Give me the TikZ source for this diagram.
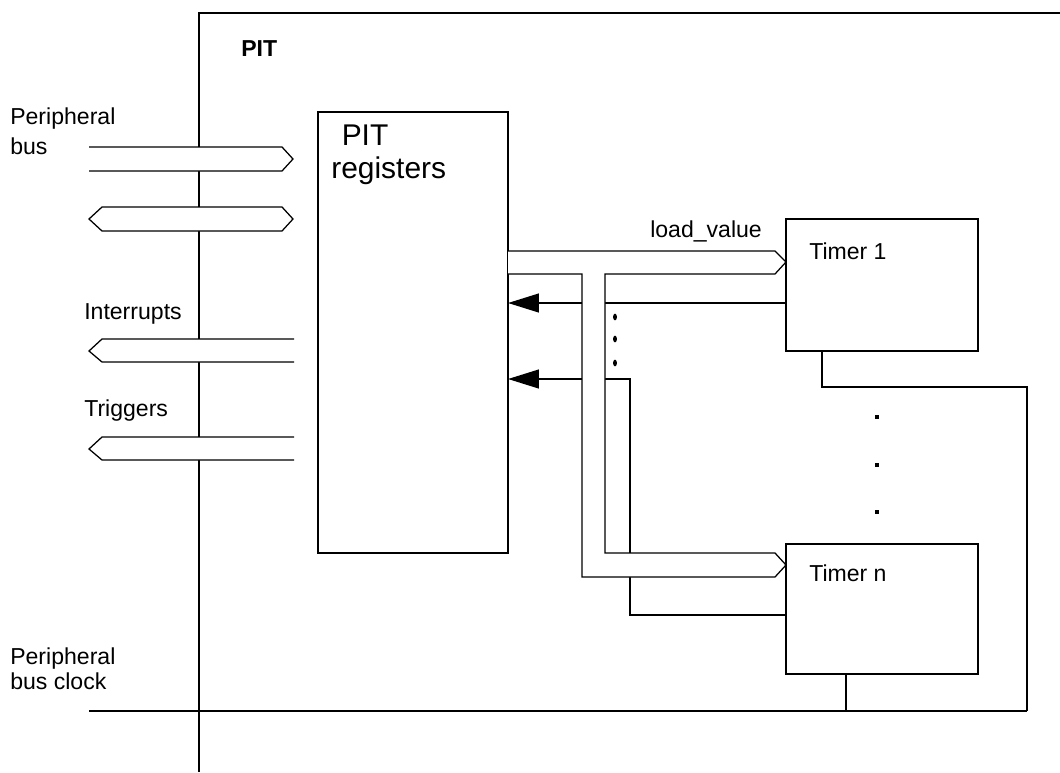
\documentclass[tikz,border=0pt]{standalone}
\usepackage{fontspec}
\setmainfont{Liberation Sans}
\usetikzlibrary{arrows.meta,positioning}

\tikzset{
  wire/.style={line width=0.9pt},
  blk/.style={draw, line width=0.9pt, anchor=north west, inner sep=0pt, outer sep=0pt,
              minimum width=4.8cm, minimum height=3.3cm},
  bus/.style={draw, line width=0.9pt, fill=white},
  irq/.style={line width=0.9pt, -{Triangle[length=22pt,width=13.5pt]}},
  txt/.style={inner sep=0pt, font=\fontsize{16.4}{21.3}\selectfont, align=left}
}

\begin{document}
\begin{tikzpicture}[x=0.025cm, y=-0.025cm]
  \useasboundingbox (0,0) rectangle (1060,772);

  % edge of the PIT block
  \draw[wire] (1060,13) -- (199,13) -- (199,772);
  \node[txt, font=\bfseries\fontsize{16.4}{20}\selectfont, anchor=base west] (pit) at (241,56) {PIT};

  % blocks
  \node[blk, minimum width=4.75cm, minimum height=11.025cm] (regs) at (318,112) {};
  \node[blk] (tmr1) at (786,219) {};
  \node[blk, minimum height=3.25cm] (tmrn) at (786,544) {};

  \node[txt, font=\fontsize{21.3}{23.5}\selectfont, anchor=north west] (regtxt) at (331,125) {\hspace*{0.35em}PIT\\registers};
  \node[txt, anchor=base west] (tmr1txt) at (809,259) {Timer 1};
  \node[txt, anchor=base west] (tmrntxt) at (809,581) {Timer n};

  % labels on the left
  \node[txt, anchor=north west] (pbus) at (10,108) {Peripheral\\bus};
  \node[txt, anchor=base west] (intl) at (84,319) {Interrupts};
  \node[txt, anchor=base west] (trgl) at (84,416) {Triggers};
  \node[txt, font=\fontsize{16.4}{18}\selectfont, anchor=north west] (pclk) at (10,647) {Peripheral\\bus clock};
  \node[txt, anchor=base west] (ldv) at (650,237) {load\_value};

  % peripheral bus in and out
  \draw[bus] (89,147) -- (282,147) -- (293,159) -- (282,171) -- (89,171);
  \draw[bus] (102,207) -- (282,207) -- (293,219) -- (282,231) -- (102,231) -- (89,219) -- cycle;
  \foreach \y in {339,437}
    \draw[bus] (294,\y) -- (102,\y) -- (89,\y+12) -- (102,\y+23) -- (294,\y+23);

  % clock
  \draw[wire] (89,711) -- (1027,711);
  \draw[wire] (tmr1.south -| 822,0) |- (1027,387) -- (1027,711);
  \draw[wire] (tmrn.south -| 846,0) -- (846,711);

  % interrupt lines from the timers
  \draw[irq] (tmr1.west |- 0,303) -- (regs.east |- 0,303);
  \draw[irq] (tmrn.west |- 0,615) -| (630,379) -- (regs.east |- 0,379);

  % load_value bus
  \draw[bus] (regs.east |- 0,251) -- (775,251) -- (tmr1.west |- 0,262) -- (775,274)
    -- (605,274) -- (605,553) -- (775,553) -- (tmrn.west |- 0,565) -- (775,577)
    -- (582,577) -- (582,274) -- (regs.east |- 0,274);

  % dots
  \foreach \y in {317,339,363}
    \fill (615,\y) ellipse [x radius=1.4pt, y radius=2.4pt];
  \foreach \y in {417,465,512}
    \fill (877,\y) +(-2.2,-2.2) rectangle +(2.2,2.2);
\end{tikzpicture}
\end{document}
